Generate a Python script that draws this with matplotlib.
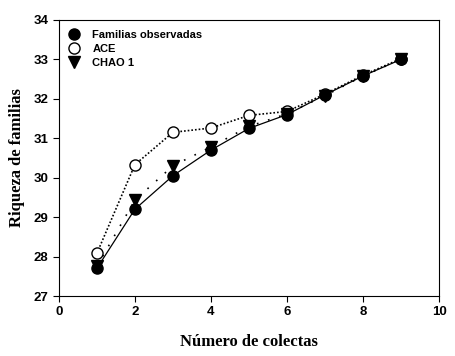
import matplotlib
matplotlib.use("Agg")
import matplotlib.pyplot as plt
from matplotlib.lines import Line2D

colectas = [1, 2, 3, 4, 5, 6, 7, 8, 9]
observadas = [27.7, 29.2, 30.05, 30.7, 31.25, 31.6, 32.1, 32.58, 33.0]
ace = [28.08, 30.33, 31.15, 31.26, 31.58, 31.68, 32.12, 32.6, 33.02]
chao1 = [27.75, 29.43, 30.3, 30.78, 31.3, 31.62, 32.08, 32.58, 33.0]

fig = plt.figure(figsize=(4.56, 3.56), dpi=100)
ax = fig.add_axes([0.129, 0.1685, 0.834, 0.7755])

ax.plot(colectas, observadas, color="black", lw=0.9, ls="-",
        marker="o", ms=8, mfc="black", mec="black", zorder=3)
ax.plot(colectas, ace, color="black", lw=1.2, ls=(0, (1, 1.2)),
        marker="o", ms=8, mfc="white", mec="black", zorder=2)
ax.plot(colectas, chao1, color="black", lw=1.2, ls=(0, (1, 6)),
        marker="v", ms=8, mfc="black", mec="black", zorder=4)

ax.set_xlim(0, 10)
ax.set_ylim(27, 34)
ax.set_xticks([0, 2, 4, 6, 8, 10])
ax.set_yticks(range(27, 35))
ax.tick_params(direction="out", length=4, width=0.8, top=False, right=False,
               labelsize=9.5)
for lab in ax.get_xticklabels() + ax.get_yticklabels():
    lab.set_fontfamily("Liberation Sans")
    lab.set_fontweight("bold")
for s in ax.spines.values():
    s.set_linewidth(0.8)

ax.set_xlabel("Número de colectas", family="Liberation Serif", fontweight="bold",
              fontsize=12, labelpad=11)
ax.set_ylabel("Riqueza de familias", family="Liberation Serif", fontweight="bold",
              fontsize=12, labelpad=6)

handles = [
    Line2D([], [], ls="none", marker="o", ms=8, mfc="black", mec="black"),
    Line2D([], [], ls="none", marker="o", ms=8, mfc="white", mec="black"),
    Line2D([], [], ls="none", marker="v", ms=8, mfc="black", mec="black"),
]
ax.legend(handles, ["Familias observadas", "ACE", "CHAO 1"], loc="upper left",
          bbox_to_anchor=(0.012, 0.985),
          frameon=False, prop={"family": "Liberation Sans", "weight": "bold", "size": 8},
          handletextpad=1.1, labelspacing=0.38, borderaxespad=0.3,
          handlelength=1.0, borderpad=0.2)

fig.savefig("out.png", dpi=100)
